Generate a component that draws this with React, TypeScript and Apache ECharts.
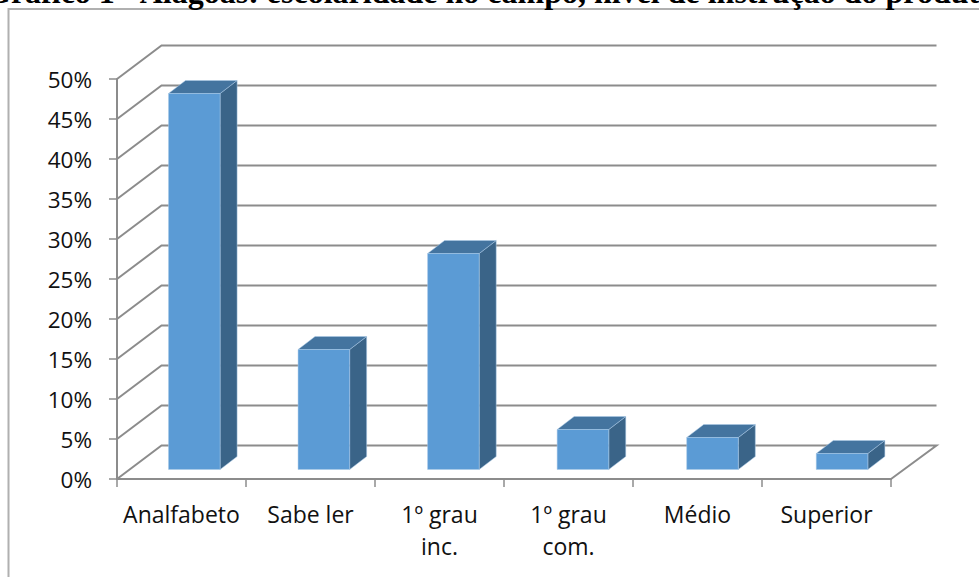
import React, { useEffect, useRef } from "react";
import * as echarts from "echarts";

const categories = ["Analfabeto", "Sabe ler", "1º grau\ninc.", "1º grau\ncom.", "Médio", "Superior"];
const shares = [47, 15, 27, 5, 4, 2];
const wallTicks = [0, 5, 10, 15, 20, 25, 30, 35, 40, 45, 50];
const titleText = "Gráfico 1 - Alagoas: escolaridade no campo, nível de instrução do produtor";

const GREY = "#8c8c8c";
const FRONT = "#5b9bd5";
const TOP = "#44749f";
const SIDE = "#3a6488";
const WALL_DX = 44.5;
const WALL_DY = -33.5;
const BAR_SHIFT_X = 12.8;
const BAR_DRIFT_X = 0.55;
const BAR_SHIFT_Y = -9.5;
const BAR_DX = 17;
const BAR_DY = -13;
const LABEL_FONT = "Open Sans";

// Back wall and floor of the pseudo-3D plot, one polyline per value tick.
function renderWallLine(params: any, api: any) {
  const cs = params.coordSys;
  const v = api.value(1);
  const y = api.coord([0, v])[1];
  const left = cs.x;
  const right = cs.x + cs.width;
  const pts: number[][] = [
    [left, y],
    [left + WALL_DX, y + WALL_DY],
    [right + WALL_DX + 1, y + WALL_DY],
  ];
  if (v === 0) pts.push([right, y]);
  return {
    type: "polyline",
    shape: { points: pts },
    style: { stroke: GREY, lineWidth: 2, fill: "none" },
    silent: true,
  };
}

// A box standing on the floor: front face plus its top and right faces.
function renderBox(_params: any, api: any) {
  const idx = api.value(0);
  const base = api.coord([idx, 0]);
  const head = api.coord([idx, api.value(1)]);
  const w = api.size([1, 0])[0] * 0.4;
  const x0 = base[0] + BAR_SHIFT_X + BAR_DRIFT_X * idx - w / 2;
  const x1 = x0 + w;
  const yb = base[1] + BAR_SHIFT_Y;
  const yt = head[1] + BAR_SHIFT_Y;
  const edge = { stroke: "#a9c8e6", lineWidth: 0.5 };
  return {
    type: "group",
    children: [
      {
        type: "polygon",
        shape: { points: [[x1, yb], [x1 + BAR_DX, yb + BAR_DY], [x1 + BAR_DX, yt + BAR_DY], [x1, yt]] },
        style: { fill: SIDE, ...edge },
      },
      {
        type: "polygon",
        shape: { points: [[x0, yt], [x0 + BAR_DX, yt + BAR_DY], [x1 + BAR_DX, yt + BAR_DY], [x1, yt]] },
        style: { fill: TOP, ...edge },
      },
      {
        type: "rect",
        shape: { x: x0, y: yt, width: w, height: yb - yt },
        style: { fill: FRONT, ...edge },
      },
    ],
  };
}

export default function App() {
  const ref = useRef<HTMLDivElement>(null);

  useEffect(() => {
    const chart = echarts.init(ref.current!, undefined, { renderer: "svg" });
    chart.setOption({
      animation: false,
      backgroundColor: "#ffffff",
      grid: { left: 117, top: 79, width: 774, height: 400, containLabel: false },
      xAxis: {
        type: "category",
        data: categories,
        boundaryGap: true,
        axisLine: { show: true, lineStyle: { color: GREY, width: 2 } },
        axisTick: { show: true, alignWithLabel: false, length: 8, lineStyle: { color: GREY, width: 1.5 } },
        axisLabel: {
          color: "#111111",
          fontFamily: LABEL_FONT,
          fontSize: 23,
          margin: 19,
          lineHeight: 32,
          interval: 0,
        },
        splitLine: { show: false },
      },
      yAxis: {
        type: "value",
        min: 0,
        max: 50,
        interval: 5,
        axisLine: { show: true, lineStyle: { color: GREY, width: 2 } },
        axisTick: { show: true, length: 8, lineStyle: { color: GREY, width: 1.5 } },
        axisLabel: {
          color: "#111111",
          fontFamily: LABEL_FONT,
          fontSize: 22.5,
          margin: 25,
          formatter: "{value}%",
        },
        splitLine: { show: false },
      },
      series: [
        {
          type: "custom",
          renderItem: renderWallLine,
          data: wallTicks.map((v) => [0, v]),
          encode: { x: 0, y: 1 },
          silent: true,
          z: 1,
        },
        {
          type: "custom",
          renderItem: renderBox,
          data: shares.map((v, i) => [i, v]),
          encode: { x: 0, y: 1 },
          z: 2,
        },
      ],
      graphic: [
        {
          type: "polyline",
          shape: { points: [[8.5, 577], [8.5, 9], [979, 9]] },
          style: { stroke: "#b0b0b0", lineWidth: 2, fill: "none" },
        },
        {
          type: "text",
          x: -14,
          y: -24,
          style: {
            text: titleText,
            font: 'bold 32px "Liberation Serif"',
            fill: "#000000",
          },
        },
      ],
    });
    return () => chart.dispose();
  }, []);

  return <div ref={ref} style={{ position: "fixed", left: 0, top: 0, width: 979, height: 577 }} />;
}
